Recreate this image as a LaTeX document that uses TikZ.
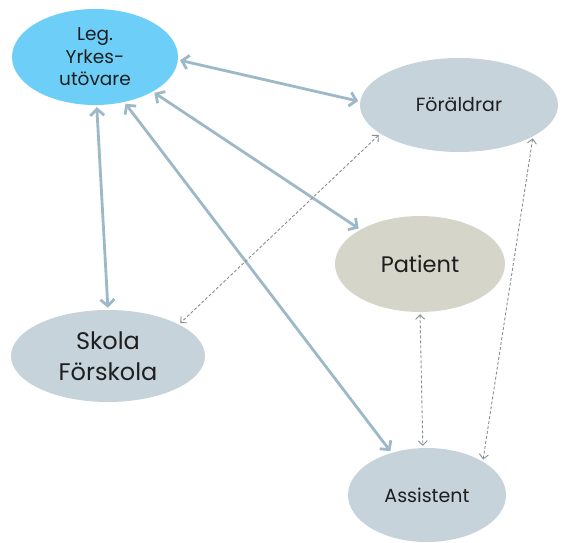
\documentclass[tikz,border=0pt]{standalone}
\usepackage{fontspec}
\setmainfont{Poppins}
\usetikzlibrary{shapes.geometric,arrows.meta}
\definecolor{legfill}{HTML}{6DCFF8}
\definecolor{greyfill}{HTML}{C6D3DB}
\definecolor{patfill}{HTML}{D6D5C9}
\definecolor{arrowcol}{HTML}{9DB8C6}
\definecolor{dashcol}{HTML}{848E94}
\definecolor{txt}{HTML}{1E1E1E}
\tikzset{
  bubble/.style={ellipse, inner sep=0pt, align=center, text=txt},
  thickarrow/.style={draw=arrowcol, line width=2.8pt, {Straight Barb[length=6.5pt,width=14pt]}-{Straight Barb[length=6.5pt,width=14pt]}, shorten <=2pt, shorten >=2pt},
  dasharrow/.style={draw=dashcol, line width=0.9pt, dash pattern=on 3pt off 2pt, {Straight Barb[length=4.5pt,width=9pt]}-{Straight Barb[length=4.5pt,width=9pt]}, shorten <=2pt, shorten >=2pt}
}
\begin{document}
\begin{tikzpicture}[x=1pt,y=-1pt]
\useasboundingbox (0,0) rectangle (563,543);
\node[bubble, fill=legfill, minimum width=166pt, minimum height=96pt, font=\fontsize{18.5}{22.5}\selectfont] (leg) at (95,57) {Leg.\\Yrkes-\\utövare};
\node[bubble, fill=greyfill, minimum width=198pt, minimum height=94pt, font=\fontsize{19}{20}\selectfont] (par) at (459,105) {Föräldrar};
\node[bubble, fill=patfill, minimum width=170pt, minimum height=96pt, font=\fontsize{22.5}{26}\selectfont] (pat) at (420,264) {Patient};
\node[bubble, fill=greyfill, minimum width=194pt, minimum height=92pt, font=\fontsize{24}{31}\selectfont] (sko) at (108,356) {Skola\\Förskola};
\node[bubble, fill=greyfill, minimum width=158pt, minimum height=94pt, font=\fontsize{19}{20}\selectfont] (ass) at (427,495) {Assistent};
\draw[thickarrow] (leg.-2) -- (par.178);
\draw[thickarrow] (leg.-31) -- (pat.150);
\draw[thickarrow] (leg.-88) -- (sko.90);
\draw[thickarrow] (leg.-57) -- (ass.130);
\draw[dasharrow] (par.-160) -- (sko.24);
\draw[dasharrow] (par.-23) -- (ass.31);
\draw[dasharrow] (pat.-90) -- (ass.95);
\end{tikzpicture}
\end{document}
